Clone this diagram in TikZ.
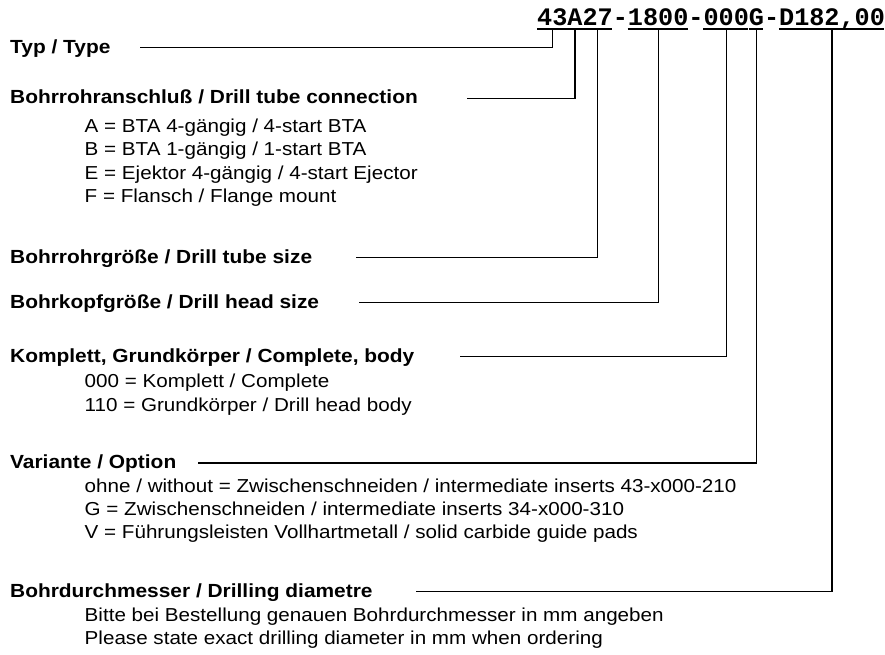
\documentclass[tikz,border=0pt]{standalone}
\usepackage{fontspec}
\setmainfont{Liberation Sans}[FakeStretch=1.1]
\newfontfamily\codefont{Liberation Mono}
\begin{document}
\begin{tikzpicture}[x=1pt,y=-1pt,
  lbl/.style={font=\fontsize{19}{22}\selectfont\bfseries, anchor=base west, inner sep=0pt},
  itm/.style={font=\fontsize{18.75}{22}\selectfont, anchor=base west, inner sep=0pt},
  codetxt/.style={font=\codefont\bfseries\fontsize{25.2}{30}\selectfont, anchor=base west, inner sep=0pt},
  conn/.style={line width=1.3pt},
  uline/.style={line width=1.8pt}]
\useasboundingbox (0,0) rectangle (885,654);
% code
\def\cx#1{537+#1*15.12}
\node[codetxt] (c43) at (\cx{0},25) {43};
\node[codetxt] (cA) at (\cx{2},25) {A};
\node[codetxt] (c27) at (\cx{3},25) {27};
\node[codetxt] (s1) at (\cx{5},25) {-};
\node[codetxt] (c1800) at (\cx{6},25) {1800};
\node[codetxt] (s2) at (\cx{10},25) {-};
\node[codetxt] (c000) at (\cx{11},25) {000};
\node[codetxt] (cG) at (\cx{14},25) {G};
\node[codetxt] (s3) at (\cx{15},25) {-};
\node[codetxt] (cD) at (\cx{16},25) {D182,00};
\foreach \n in {c43,cA,c27,c1800,c000,cG,cD}{
  \draw[uline] ([yshift=-4pt]\n.base west) -- ([yshift=-4pt,xshift=-1pt]\n.base east);
  \coordinate (u\n) at ([yshift=-4pt]\n.base);
}
% labels
\node[lbl] (typ) at (10,53) {Typ / Type};
\node[lbl] (bra) at (10,103) {Bohrrohranschluß / Drill tube connection};
\node[itm] (a1) at (84.5,132) {A = BTA 4-gängig / 4-start BTA};
\node[itm] (a2) at (84.5,155.5) {B = BTA 1-gängig / 1-start BTA};
\node[itm] (a3) at (84.5,179) {E = Ejektor 4-gängig / 4-start Ejector};
\node[itm] (a4) at (84.5,202.5) {F = Flansch / Flange mount};
\node[lbl] (brg) at (10,263) {Bohrrohrgröße / Drill tube size};
\node[lbl] (bkg) at (10,308) {Bohrkopfgröße / Drill head size};
\node[lbl] (kgk) at (10,362) {Komplett, Grundkörper / Complete, body};
\node[itm] (k1) at (84.5,387.5) {000 = Komplett / Complete};
\node[itm] (k2) at (84.5,411) {110 = Grundkörper / Drill head body};
\node[lbl] (var) at (10,468) {Variante / Option};
\node[itm] (v1) at (84.5,492.5) {ohne / without = Zwischenschneiden / intermediate inserts 43-x000-210};
\node[itm] (v2) at (84.5,515.5) {G = Zwischenschneiden / intermediate inserts 34-x000-310};
\node[itm] (v3) at (84.5,538.5) {V = Führungsleisten Vollhartmetall / solid carbide guide pads};
\node[lbl] (bdm) at (10,597) {Bohrdurchmesser / Drilling diametre};
\node[itm] (d1) at (84.5,621) {Bitte bei Bestellung genauen Bohrdurchmesser in mm angeben};
\node[itm] (d2) at (84.5,644) {Please state exact drilling diameter in mm when ordering};
% line ends
\coordinate (e1) at (140,47.5);
\coordinate (e2) at (467,98.5);
\coordinate (e3) at (356,257.5);
\coordinate (e4) at (359,302.5);
\coordinate (e5) at (460,356.5);
\coordinate (e6) at (198,463);
\coordinate (e7) at (416,591.5);
\draw[conn] (uc43) |- (e1);
\draw[conn] (ucA) |- (e2);
\draw[conn] (uc27) |- (e3);
\draw[conn] (uc1800) |- (e4);
\draw[conn] (uc000) |- (e5);
\draw[conn] (ucG) |- (e6);
\draw[conn] (ucD) |- (e7);
\end{tikzpicture}
\end{document}
